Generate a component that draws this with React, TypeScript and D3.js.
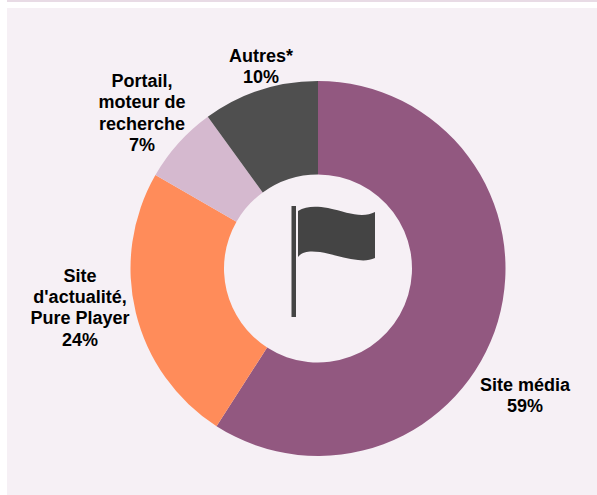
import * as d3 from "d3";

const categories = ["Site média", "Site d'actualité, Pure Player", "Portail, moteur de recherche", "Autres*"];
const shares = [59.1, 24.2, 6.7, 10];
const colors = ["#925880", "#ff8c5a", "#d5b9cf", "#4f4f4f"];
const labelLines = [
  ["Site média", "59%"],
  ["Site", "d'actualité,", "Pure Player", "24%"],
  ["Portail,", "moteur de", "recherche", "7%"],
  ["Autres*", "10%"],
];
const labelAnchors = [
  [525, 391],
  [80, 281.5],
  [142, 87],
  [261, 62],
];

const width = 597;
const height = 495;
const cx = 318;
const cy = 268.5;
const outerR = 187.5;
const innerR = 94;
const lineHeight = 21.4;

export default function App() {
  const pie = d3.pie<number>().sort(null).value((d) => d);
  const arc = d3.arc<d3.PieArcDatum<number>>().innerRadius(innerR).outerRadius(outerR);
  const slices = pie(shares);

  return (
    <svg
      width={width}
      height={height}
      style={{ position: "absolute", left: 0, top: 0, fontFamily: "'Liberation Sans', Arial, sans-serif" }}
    >
      <rect x={0} y={0} width={width} height={height} fill="#ffffff" />
      <rect x={7} y={0} width={590} height={2} fill="#e8dbe5" />
      <rect x={7} y={8} width={590} height={487} fill="#f6f0f5" />

      <g transform={`translate(${cx},${cy})`}>
        {slices.map((s, i) => (
          <path key={categories[i]} d={arc(s) ?? ""} fill={colors[i]} />
        ))}
      </g>

      {/* flag icon */}
      <g fill="#444444">
        <rect x={291.5} y={206} width={4.5} height={111} />
        <path d="M298 211 C 306 206, 316 206, 328 208 C 342 211, 352 215, 362 215 C 367 215, 371 214, 375 212 L 375 258 C 370 260, 365 261, 358 260 C 345 259, 332 254, 320 252 C 310 251, 303 251, 298 257 Z" />
      </g>

      {labelLines.map((lines, i) => (
        <text
          key={categories[i]}
          x={labelAnchors[i][0]}
          y={labelAnchors[i][1]}
          textAnchor="middle"
          fontSize={18}
          fontWeight="bold"
          fill="#000000"
        >
          {lines.map((line, j) => (
            <tspan key={line} x={labelAnchors[i][0]} dy={j === 0 ? 0 : lineHeight}>
              {line}
            </tspan>
          ))}
        </text>
      ))}
    </svg>
  );
}
